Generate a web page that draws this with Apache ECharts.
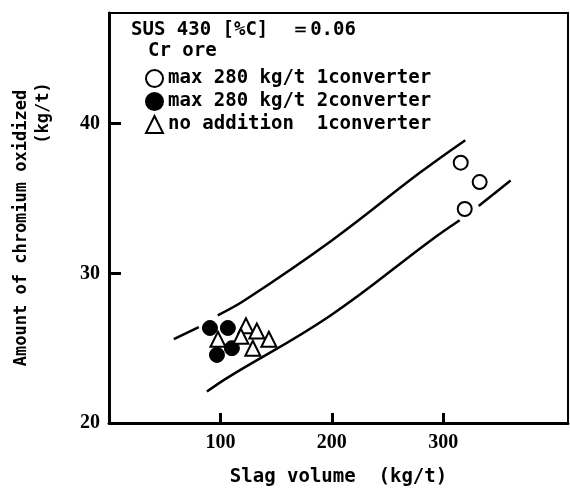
<!DOCTYPE html>
<html>
<head>
<meta charset="utf-8">
<script src="https://cdn.jsdelivr.net/npm/echarts@6/dist/echarts.min.js"></script>
<style>
  html, body { margin: 0; padding: 0; background: #fff; }
  #chart { width: 570px; height: 490px; }
</style>
</head>
<body>
<div id="chart"></div>
<script>
// ticks
const xTicks = [100, 200, 300];
const yTicks = [20, 30, 40];

// scatter groups [slag volume, Cr oxidized]
const names = ['max 280 kg/t 1converter', 'max 280 kg/t 2converter', 'no addition  1converter'];
const conv1Ore = [[315.7, 37.4], [332.7, 36.1], [319.3, 34.3]];
const conv2Ore = [[90.6, 26.35], [106.7, 26.35], [96.9, 24.55], [110.3, 25.0]];
const noAdd = [[97.8, 25.6], [122.9, 26.5], [118.4, 25.8], [132.7, 26.15], [143.5, 25.6], [129.1, 25.0]];

// band curves (broken where they pass the points)
const upperA = [[58.2, 25.6], [80.6, 26.4]];
const upperB = [[97.6, 27.2], [121.8, 28.2], [200, 32.2], [278.6, 36.7], [319.8, 38.9]];
const lowerA = [[87.9, 22.1], [105.8, 23.0], [198.2, 27.15], [290.6, 32.3], [314.8, 33.55]];
const lowerB = [[331.8, 34.5], [360.5, 36.2]];

const chart = echarts.init(document.getElementById('chart'));
const mono = 'DejaVu Sans Mono';
const serif = 'Liberation Serif';

const lineSeries = [upperA, upperB, lowerA, lowerB].map(d => ({
  type: 'line',
  data: d,
  smooth: 0.4,
  showSymbol: false,
  silent: true,
  lineStyle: { color: '#000', width: 2.5 },
  z: 1
}));

chart.setOption({
  animation: false,
  grid: {
    left: 109, top: 13, right: 2, bottom: 67,
    outerBoundsMode: 'none',
    show: true, borderColor: '#000', borderWidth: 2
  },
  xAxis: {
    type: 'value', min: 0, max: 412, interval: 100,
    splitLine: { show: false },
    axisLine: { lineStyle: { color: '#000', width: 3 } },
    axisTick: { inside: true, length: 10, customValues: xTicks, lineStyle: { color: '#000', width: 3 } },
    axisLabel: {
      customValues: xTicks, margin: 10,
      color: '#000', fontFamily: serif, fontWeight: 'bold', fontSize: 20
    },
    name: 'Slag volume  (kg/t)', nameLocation: 'middle', nameGap: 45,
    nameTextStyle: { color: '#000', fontFamily: mono, fontWeight: 'bold', fontSize: 19 }
  },
  yAxis: {
    type: 'value', min: 20, max: 47.4, interval: 10,
    splitLine: { show: false },
    axisLine: { lineStyle: { color: '#000', width: 3 } },
    axisTick: { inside: true, length: 12, customValues: yTicks, lineStyle: { color: '#000', width: 3 } },
    axisLabel: {
      customValues: yTicks, margin: 9,
      color: '#000', fontFamily: serif, fontWeight: 'bold', fontSize: 20
    }
  },
  legend: {
    orient: 'vertical', left: 140, top: 64,
    itemWidth: 17, itemHeight: 17, itemGap: 4,
    data: names,
    textStyle: { color: '#000', fontFamily: mono, fontWeight: 'bold', fontSize: 19 }
  },
  graphic: [
    { type: 'text', left: 131, top: 21,
      style: { text: 'SUS 430 [%C]  ＝0.06', fill: '#000', font: 'bold 19px "DejaVu Sans Mono"' } },
    { type: 'text', left: 148, top: 42,
      style: { text: 'Cr ore', fill: '#000', font: 'bold 19px "DejaVu Sans Mono"' } },
    { type: 'text', x: 22, y: 228, rotation: Math.PI / 2,
      style: { text: 'Amount of chromium oxidized', fill: '#000', font: 'bold 17px "DejaVu Sans Mono"',
               align: 'center', verticalAlign: 'middle' } },
    { type: 'text', x: 44, y: 113, rotation: Math.PI / 2,
      style: { text: '(kg/t)', fill: '#000', font: 'bold 17px "DejaVu Sans Mono"',
               align: 'center', verticalAlign: 'middle' } }
  ],
  series: lineSeries.concat([
    { name: names[0], type: 'scatter', data: conv1Ore, symbol: 'circle', symbolSize: 14, z: 3,
      itemStyle: { color: '#fff', borderColor: '#000', borderWidth: 2, opacity: 1 } },
    { name: names[1], type: 'scatter', data: conv2Ore, symbol: 'circle', symbolSize: 15, z: 3,
      itemStyle: { color: '#000', borderColor: '#000', borderWidth: 1, opacity: 1 } },
    { name: names[2], type: 'scatter', data: noAdd, symbol: 'triangle', symbolSize: 15, z: 3,
      itemStyle: { color: '#fff', borderColor: '#000', borderWidth: 2, opacity: 1 } }
  ])
});
</script>
</body>
</html>
